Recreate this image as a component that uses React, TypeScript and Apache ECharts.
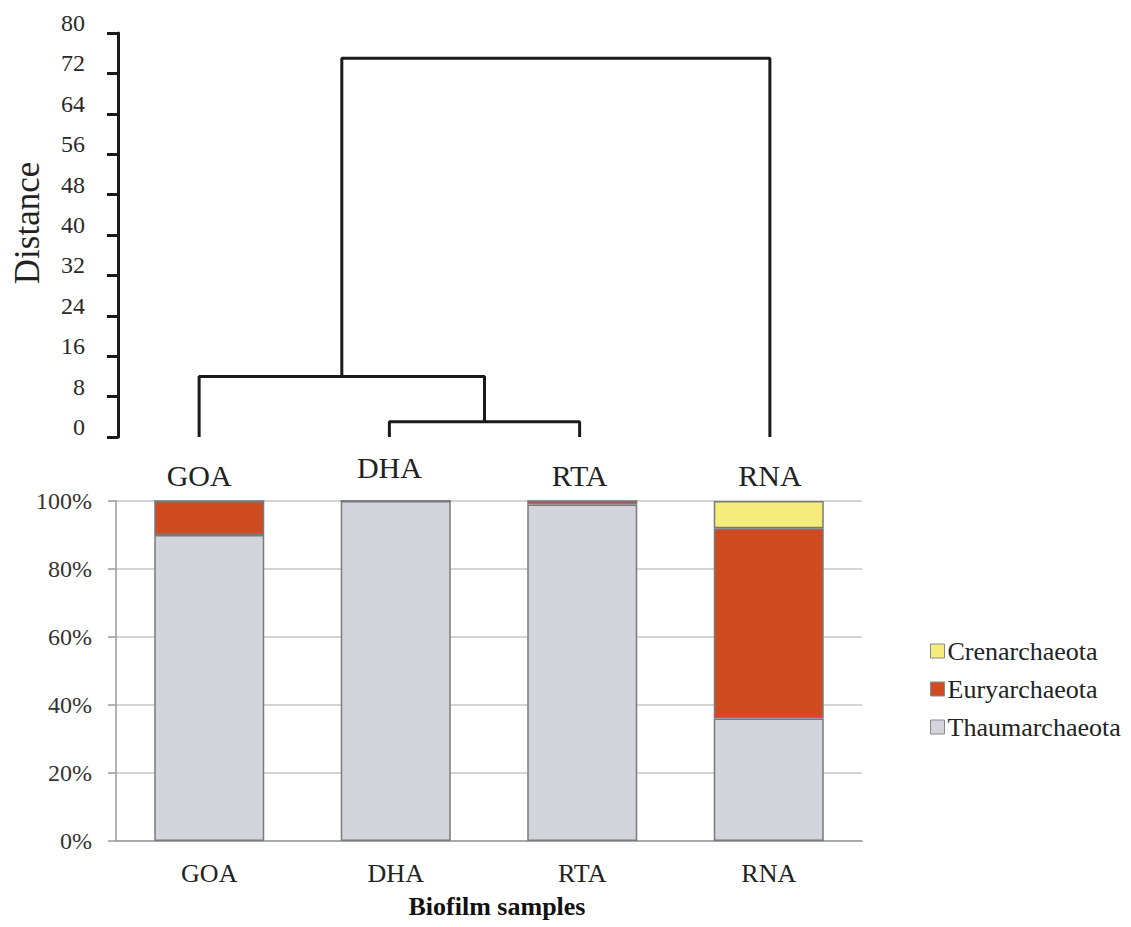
import React, { useEffect, useRef } from 'react';
import * as echarts from 'echarts';

// Samples (leaves of the dendrogram and bar categories)
const samples = ['GOA', 'DHA', 'RTA', 'RNA'];

// Dendrogram merges: [leftNode, rightNode, distance]; nodes 0-3 are samples, 4+ are merged clusters
const merges: [number, number, number][] = [
  [1, 2, 3],
  [0, 4, 12],
  [5, 3, 75],
];

// Relative abundance (%) of archaeal phyla
const phyla = ['Thaumarchaeota', 'Euryarchaeota', 'Crenarchaeota'];
const thaumarchaeota = [90, 100, 99, 36];
const euryarchaeota = [10, 0, 1, 56];
const crenarchaeota = [0, 0, 0, 8];
const phylumValues = [thaumarchaeota, euryarchaeota, crenarchaeota];
const phylumColors = ['#d4d4dc', '#d14b22', '#f6ec7c'];

const FONT = "'Liberation Serif', 'Times New Roman', serif";

export default function App() {
  const ref = useRef<HTMLDivElement>(null);

  useEffect(() => {
    if (!ref.current) return;
    const chart = echarts.init(ref.current, null, { renderer: 'svg' });

    const nodeX: number[] = samples.map((_, i) => i);
    const nodeH: number[] = samples.map(() => 0);
    const dendroSeries = merges.map(([a, b, h]) => {
      const seg = [
        [nodeX[a], nodeH[a]],
        [nodeX[a], h],
        [nodeX[b], h],
        [nodeX[b], nodeH[b]],
      ];
      nodeX.push((nodeX[a] + nodeX[b]) / 2);
      nodeH.push(h);
      return {
        type: 'line',
        xAxisIndex: 1,
        yAxisIndex: 0,
        data: seg,
        symbol: 'none',
        silent: true,
        lineStyle: { color: '#1a1a1a', width: 3 },
      };
    });

    const barSeries = phyla.map((name, i) => ({
      type: 'bar',
      name,
      stack: 'total',
      xAxisIndex: 2,
      yAxisIndex: 1,
      barWidth: 110,
      data: phylumValues[i],
      itemStyle: { color: phylumColors[i], borderColor: '#7a7a7a', borderWidth: 1.5 },
    }));

    chart.setOption({
      animation: false,
      backgroundColor: '#ffffff',
      grid: [
        { left: 104, width: 761, top: 33, height: 404 },
        { left: 116, width: 746, top: 501, height: 340 },
      ],
      xAxis: [
        {
          type: 'category',
          gridIndex: 0,
          position: 'bottom',
          data: samples,
          axisLine: { show: false },
          axisTick: { show: false },
          axisLabel: {
            fontFamily: FONT,
            fontSize: 30,
            color: '#222',
            verticalAlign: 'middle',
            lineHeight: 15,
            margin: 38,
            // the DHA leaf label sits slightly higher in the original figure
            formatter: (v: string) => (v === 'DHA' ? v + '\n' : v),
          },
        },
        { type: 'value', gridIndex: 0, min: -0.5, max: 3.5, show: false },
        {
          type: 'category',
          gridIndex: 1,
          data: samples,
          axisLine: { lineStyle: { color: '#9a9a9a', width: 1.5 } },
          axisTick: { length: 6, lineStyle: { color: '#9a9a9a', width: 1.5 } },
          axisLabel: { fontFamily: FONT, fontSize: 26, color: '#222', margin: 19 },
          name: 'Biofilm samples',
          nameLocation: 'middle',
          nameGap: 52,
          nameTextStyle: {
            fontFamily: FONT,
            fontSize: 26,
            fontWeight: 'bold',
            color: '#111',
            padding: [0, 0, 0, 16],
          },
        },
      ],
      yAxis: [
        {
          type: 'value',
          gridIndex: 0,
          min: 0,
          max: 80,
          interval: 8,
          offset: -14,
          axisLine: { show: true, onZero: false, lineStyle: { color: '#1a1a1a', width: 3 } },
          axisTick: { show: true, length: 11, lineStyle: { color: '#1a1a1a', width: 3 } },
          splitLine: { show: false },
          axisLabel: {
            fontFamily: FONT,
            fontSize: 24,
            color: '#2a2a2a',
            margin: 33,
            verticalAlign: 'bottom',
            lineHeight: 20,
          },
        },
        {
          type: 'value',
          gridIndex: 1,
          min: 0,
          max: 100,
          interval: 20,
          axisLine: { show: true, lineStyle: { color: '#9a9a9a', width: 1.5 } },
          axisTick: { show: true, length: 8, lineStyle: { color: '#9a9a9a', width: 1.5 } },
          splitLine: { show: true, lineStyle: { color: '#c6c6c6', width: 1.5 } },
          axisLabel: {
            fontFamily: FONT,
            fontSize: 24,
            color: '#333',
            margin: 24,
            formatter: '{value}%',
          },
        },
      ],
      legend: {
        data: [...phyla].reverse(),
        orient: 'vertical',
        left: 925,
        top: 633,
        icon: 'rect',
        itemWidth: 14,
        itemHeight: 14,
        itemGap: 12,
        itemStyle: { borderColor: '#888', borderWidth: 1 },
        textStyle: { fontFamily: FONT, fontSize: 26, color: '#222', padding: [0, 0, 0, -2] },
      },
      graphic: [
        {
          type: 'text',
          x: 27,
          y: 223,
          rotation: Math.PI / 2,
          style: {
            text: 'Distance',
            font: `35px ${FONT}`,
            fill: '#222',
            align: 'center',
            verticalAlign: 'middle',
          },
        },
      ],
      series: [...dendroSeries, ...barSeries],
    });

    return () => chart.dispose();
  }, []);

  return (
    <div
      ref={ref}
      style={{ position: 'fixed', left: 0, top: 0, width: 1131, height: 927, background: '#fff' }}
    />
  );
}
